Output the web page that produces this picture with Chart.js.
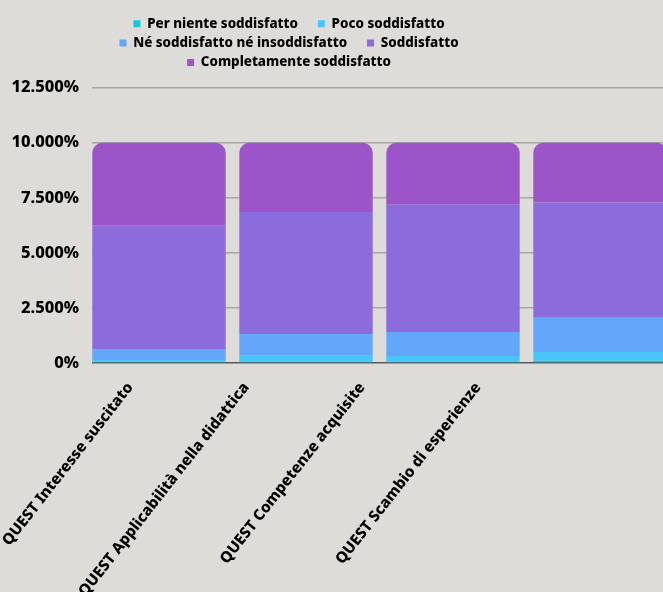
<!DOCTYPE html>
<html>
<head>
<meta charset="utf-8">
<script src="https://cdn.jsdelivr.net/npm/chart.js@4.4.1/dist/chart.umd.min.js"></script>
<style>
  html, body { margin: 0; padding: 0; background: #dddcd8; overflow: hidden; }
  #wrap { width: 663px; height: 592px; position: relative; }
</style>
</head>
<body>
<div id="wrap"><canvas id="chart" width="663" height="592"></canvas></div>
<script>
// Categories (one stacked bar each)
const categories = [
  'QUEST Interesse suscitato',
  'QUEST Applicabilità nella didattica',
  'QUEST Competenze acquisite',
  'QUEST Scambio di esperienze'
];

// Series names, bottom to top of each stack
const seriesNames = [
  'Per niente soddisfatto',
  'Poco soddisfatto',
  'Né soddisfatto né insoddisfatto',
  'Soddisfatto',
  'Completamente soddisfatto'
];

// Series values (percent)
const perNiente     = [0.06, 0.06, 0.06, 0.10];
const poco          = [0.08, 0.27, 0.26, 0.40];
const neutro        = [0.50, 0.99, 1.09, 1.55];
const soddisfatto   = [5.59, 5.54, 5.77, 5.24];
const completamente = [3.77, 3.14, 2.82, 2.71];

// Value-axis tick values (percent)
const yTicks = [0, 2.5, 5, 7.5, 10, 12.5];

const seriesValues = [perNiente, poco, neutro, soddisfatto, completamente];
const seriesColors = ['#19c6d6', '#48c5fb', '#64a6fa', '#8c6cdc', '#9b55c9'];

const FONT = 'Noto Sans';
const WEIGHT = 800;

// Wrap the legend in a narrower band than the canvas and leave a gap under it
const legendBand = {
  id: 'legendBand',
  beforeLayout(chart, args, opts) {
    const lg = chart.legend;
    if (!lg || lg.$banded) return;
    const update = lg.update.bind(lg);
    lg.update = function (maxWidth, maxHeight, margins) {
      update(Math.min(maxWidth, opts.wrapWidth), maxHeight, margins);
      this.height += opts.gapBelow;
    };
    lg.$banded = true;
  },
  afterLayout(chart, args, opts) {
    const lg = chart.legend;
    if (!lg) return;
    lg.left = opts.left;
    lg.right = opts.right;
    lg.width = opts.right - opts.left;
  }
};

// One tick per category on an index axis
const categoryTicks = scale => {
  scale.ticks = categories.map((c, i) => ({ value: i }));
};

const datasets = seriesNames.map((name, s) => ({
  label: name,
  data: seriesValues[s].map((v, i) => ({ x: i, y: v })),
  backgroundColor: seriesColors[s],
  borderWidth: 0,
  barPercentage: 0.9075,
  categoryPercentage: 1,
  borderRadius: s === seriesNames.length - 1
    ? { topLeft: 10, topRight: 10, bottomLeft: 0, bottomRight: 0 }
    : 0,
  borderSkipped: false
}));

new Chart(document.getElementById('chart'), {
  type: 'bar',
  data: { datasets },
  plugins: [legendBand],
  options: {
    responsive: false,
    animation: false,
    layout: { padding: { top: 11, left: 0, right: 0, bottom: 0 } },
    plugins: {
      tooltip: { enabled: false },
      legendBand: { wrapWidth: 520, gapBelow: 8.5, left: 0, right: 592 },
      legend: {
        position: 'top',
        align: 'center',
        labels: {
          color: '#000',
          font: { family: FONT, weight: WEIGHT, size: 13.4 },
          boxWidth: 7,
          boxHeight: 7,
          padding: 6,
          generateLabels(chart) {
            return Chart.defaults.plugins.legend.labels.generateLabels(chart)
              .map(item => ({ ...item, text: item.text + '\u00a0\u00a0\u00a0\u00a0' }));
          }
        }
      }
    },
    scales: {
      x: {
        type: 'linear',
        stacked: true,
        display: false,
        offset: false,
        min: -0.4558,
        max: 3.4286,
        afterBuildTicks: categoryTicks
      },
      x2: {
        type: 'linear',
        axis: 'x',
        position: 'bottom',
        weight: 1,
        offset: false,
        min: -0.3305,
        max: 4.596,
        afterBuildTicks: categoryTicks,
        afterFit(scale) {
          scale.height = 229;
          scale.paddingLeft = 0;
          scale.paddingRight = 0;
        },
        grid: { display: false, drawTicks: false },
        border: { display: false },
        ticks: {
          autoSkip: false,
          minRotation: 52,
          maxRotation: 52,
          padding: 16,
          color: '#000',
          font: { family: FONT, weight: WEIGHT, size: 15.3 },
          callback: (v, i) => categories[i]
        }
      },
      y: {
        stacked: true,
        min: 0,
        max: 12.5,
        afterBuildTicks(scale) {
          scale.ticks = yTicks.map(v => ({ value: v }));
        },
        afterFit(scale) {
          scale.width = 92;
        },
        border: { display: false },
        grid: {
          drawTicks: false,
          lineWidth: 1.5,
          color: ctx => ctx.tick && ctx.tick.value === 0 ? '#5a5a58' : '#a6a6a3'
        },
        ticks: {
          padding: 13,
          color: '#000',
          font: { family: FONT, weight: WEIGHT, size: 16.5 },
          callback: v => v === 0 ? '0%' : v.toFixed(3) + '%'
        }
      }
    }
  }
});
</script>
</body>
</html>
